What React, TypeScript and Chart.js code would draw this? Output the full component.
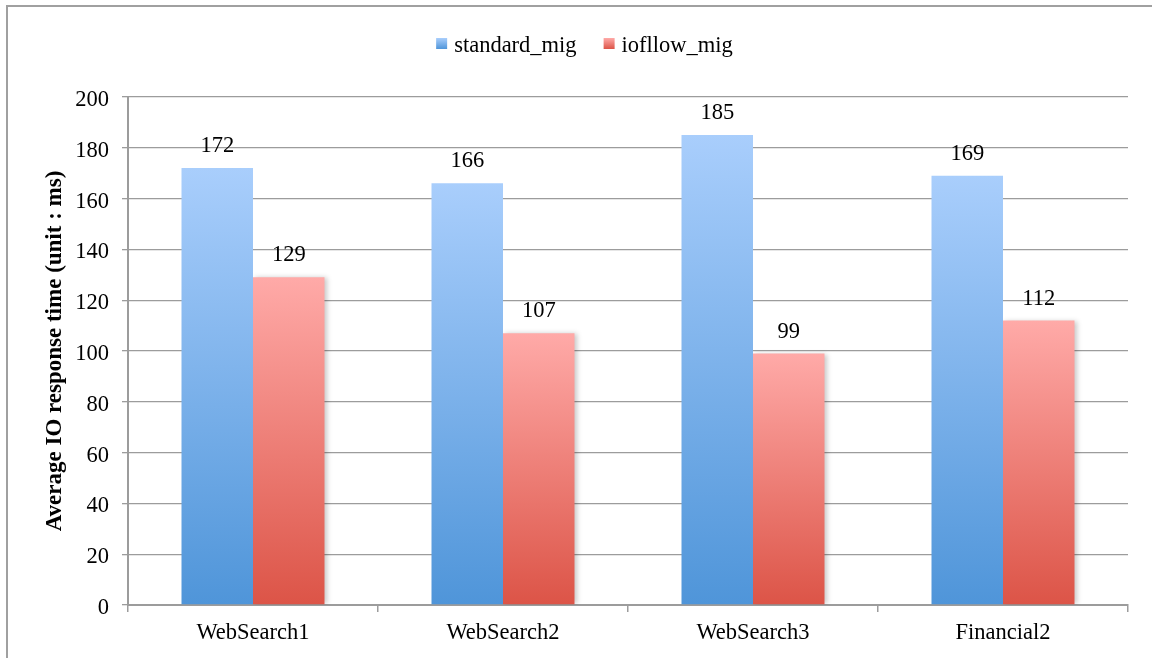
import React, { useEffect, useRef } from "react";
import { Chart, registerables } from "chart.js";

Chart.register(...registerables);

const categories = ["WebSearch1", "WebSearch2", "WebSearch3", "Financial2"];
const standardMig = [172, 166, 185, 169];
const iofllowMig = [129, 107, 99, 112];
const seriesNames = ["standard_mig", "iofllow_mig"];
const yTicks = [0, 20, 40, 60, 80, 100, 120, 140, 160, 180, 200];

const FONT = "'Liberation Serif', 'Times New Roman', serif";
const FS = 22.5;
const BLUE_TOP = "#a9cefc";
const BLUE_BOTTOM = "#4f95d9";
const RED_TOP = "#ffaaa8";
const RED_BOTTOM = "#dc5447";
const GRID = "#9c9c9c";

function barGradient(top: string, bottom: string) {
  return (ctx: any) => {
    const chart = ctx.chart;
    const area = chart.chartArea;
    if (!area || ctx.type !== "data") return bottom;
    const ys = chart.scales.y;
    const t = ys.getPixelForValue(ctx.raw);
    const b = ys.getPixelForValue(0);
    if (!isFinite(t) || !isFinite(b) || t === b) return bottom;
    const g = chart.ctx.createLinearGradient(0, t, 0, b);
    g.addColorStop(0, top);
    g.addColorStop(1, bottom);
    return g;
  };
}

const framePlugin = {
  id: "frame",
  beforeDraw(chart: any) {
    const c = chart.ctx;
    c.save();
    c.strokeStyle = "#a0a0a0";
    c.lineWidth = 2;
    c.beginPath();
    c.moveTo(7, chart.height);
    c.lineTo(7, 6);
    c.lineTo(chart.width, 6);
    c.stroke();
    c.restore();
  },
};

const legendPlugin = {
  id: "customLegend",
  afterDraw(chart: any) {
    const c = chart.ctx;
    c.save();
    c.font = `${FS}px ${FONT}`;
    const box = 11;
    const gapText = 7;
    const gapItem = 27;
    const colors = [
      [BLUE_TOP, BLUE_BOTTOM],
      [RED_TOP, RED_BOTTOM],
    ];
    const widths = seriesNames.map((n) => c.measureText(n).width);
    const total =
      widths.reduce((a, w) => a + box + gapText + w, 0) + gapItem * (seriesNames.length - 1);
    let x = 584.5 - total / 2;
    const boxTop = 38;
    const baseline = 52;
    seriesNames.forEach((name, i) => {
      const g = c.createLinearGradient(0, boxTop, 0, boxTop + box);
      g.addColorStop(0, colors[i][0]);
      g.addColorStop(1, colors[i][1]);
      c.fillStyle = g;
      c.fillRect(x, boxTop, box, box);
      x += box + gapText;
      c.fillStyle = "#000";
      c.textAlign = "left";
      c.textBaseline = "alphabetic";
      c.fillText(name, x, baseline);
      x += widths[i] + gapItem;
    });
    c.restore();
  },
};

const barDecorPlugin = {
  id: "barDecor",
  beforeDatasetDraw(chart: any, args: any) {
    const c = chart.ctx;
    c.save();
    if (args.index === 1) {
      c.shadowColor = "rgba(0,0,0,0.22)";
      c.shadowBlur = 5;
      c.shadowOffsetX = 2;
      c.shadowOffsetY = 0;
    }
  },
  afterDatasetDraw(chart: any) {
    chart.ctx.restore();
  },
  afterDatasetsDraw(chart: any) {
    const c = chart.ctx;
    c.save();
    c.font = `${FS}px ${FONT}`;
    c.fillStyle = "#000";
    c.textAlign = "center";
    c.textBaseline = "alphabetic";
    chart.data.datasets.forEach((ds: any, di: number) => {
      const meta = chart.getDatasetMeta(di);
      meta.data.forEach((bar: any, i: number) => {
        c.fillText(String(ds.data[i]), bar.x, bar.y - 16);
      });
    });
    c.restore();
  },
};

export default function App() {
  const ref = useRef<HTMLCanvasElement | null>(null);

  useEffect(() => {
    if (!ref.current) return;
    Chart.defaults.font.family = FONT;
    const chart = new Chart(ref.current, {
      type: "bar",
      data: {
        labels: categories,
        datasets: [
          {
            label: seriesNames[0],
            data: standardMig,
            backgroundColor: barGradient(BLUE_TOP, BLUE_BOTTOM),
            borderWidth: 0,
            categoryPercentage: 0.572,
            barPercentage: 1,
          },
          {
            label: seriesNames[1],
            data: iofllowMig,
            backgroundColor: barGradient(RED_TOP, RED_BOTTOM),
            borderWidth: 0,
            categoryPercentage: 0.572,
            barPercentage: 1,
          },
        ],
      },
      options: {
        animation: false,
        responsive: false,
        maintainAspectRatio: false,
        layout: { padding: { top: 97, right: 24, left: 0, bottom: 0 } },
        plugins: {
          legend: { display: false },
          tooltip: { enabled: false },
        },
        scales: {
          x: {
            grid: {
              offset: true,
              drawOnChartArea: false,
              drawTicks: true,
              tickLength: 7,
              color: GRID,
              lineWidth: 1.5,
            },
            border: { color: GRID, width: 2 },
            ticks: {
              color: "#000",
              font: { size: FS, family: FONT },
              padding: 8,
            },
            afterFit: (s: any) => {
              s.height = 53;
            },
          },
          y: {
            min: 0,
            max: 200,
            afterBuildTicks: (s: any) => {
              s.ticks = yTicks.map((v) => ({ value: v }));
            },
            grid: {
              color: GRID,
              lineWidth: 1.3,
              drawTicks: true,
              tickLength: 6,
            },
            border: { color: GRID, width: 2 },
            ticks: {
              color: "#000",
              font: { size: FS, family: FONT },
              padding: 13,
              labelOffset: 3,
            },
            title: {
              display: true,
              text: "Average IO response time (unit : ms)",
              color: "#000",
              font: { size: 23, weight: "bold", family: FONT },
              padding: { top: 41, bottom: 0 },
            },
            afterFit: (s: any) => {
              s.width = 128;
            },
          },
        },
      },
      plugins: [framePlugin, barDecorPlugin, legendPlugin],
    });
    return () => chart.destroy();
  }, []);

  return (
    <div style={{ position: "absolute", left: 0, top: 0, width: 1152, height: 658, background: "#fff" }}>
      <canvas ref={ref} width={1152} height={658} style={{ display: "block" }} />
    </div>
  );
}
